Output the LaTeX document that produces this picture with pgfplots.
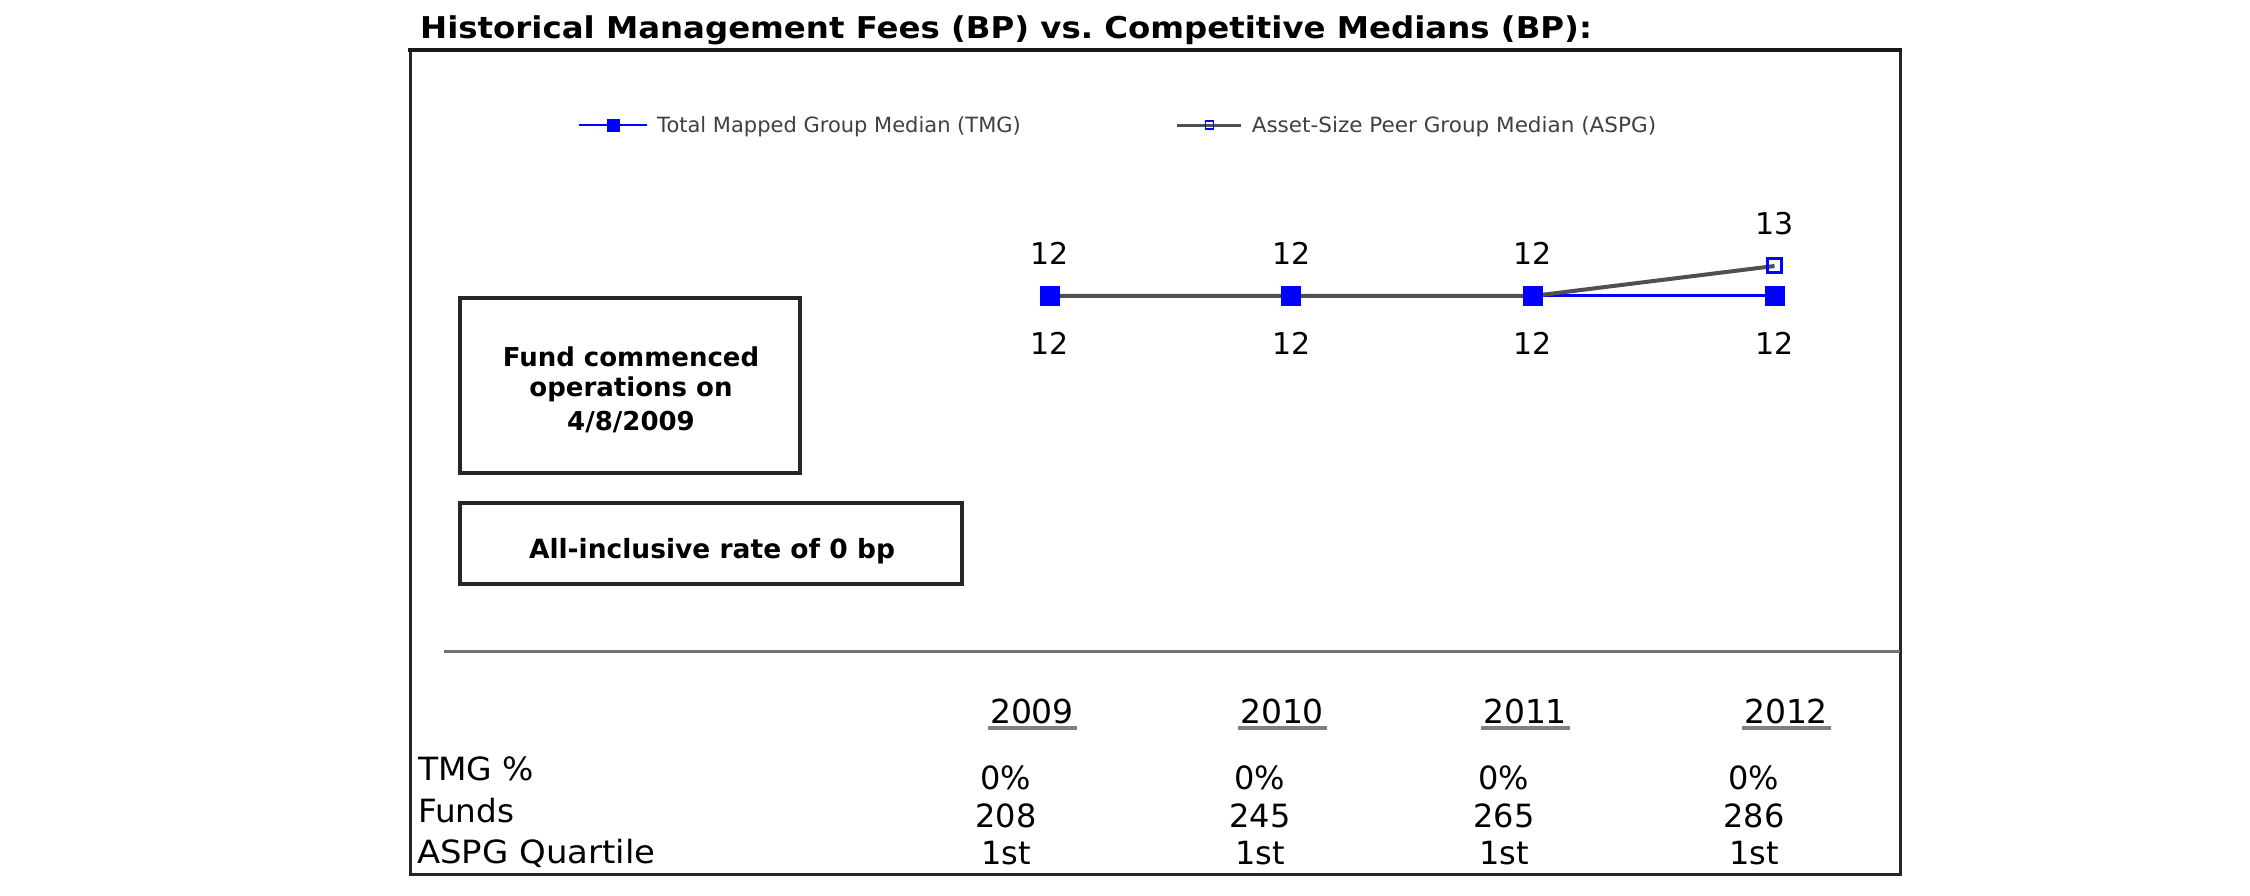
\documentclass[border=0pt]{standalone}
\usepackage{fontspec}
\setmainfont{DejaVu Sans}
\usepackage{graphicx}
\usepackage{pgfplots}
\pgfplotsset{compat=1.18}
\definecolor{aspg}{RGB}{80,80,80}
\newcommand\fs[1]{\fontsize{#1}{#1}\selectfont}
\pgfplotsset{
  tmglegend/.style={legend image code/.code={\draw[mark repeat=2, mark phase=2, ##1, line width=2pt, mark size=6pt, mark options={fill=blue, draw=blue, line width=1pt}] plot coordinates {(0pt,0pt) (34pt,0pt) (68pt,0pt)};}},
  aspglegend/.style={legend image code/.code={\draw[mark repeat=2, mark phase=2, ##1, line width=3pt, mark size=4pt, mark options={draw=blue, line width=1.5pt}] plot coordinates {(0pt,0pt) (32pt,0pt) (64pt,0pt)};}},
}
\begin{document}
\begin{tikzpicture}[x=1pt,y=1pt]
\path[use as bounding box, fill=white] (0,0) rectangle (2250,895);
% title
\node[anchor=base west, inner sep=0pt] at (420,856) {\fs{30}\bfseries\scalebox{1.08}[1]{Historical Management Fees (BP) vs.\ Competitive Medians (BP):}};
% frame
\draw[line width=3pt, black!85] (410,21) rectangle (1900,845);
\draw[line width=4.5pt, black!90] (408,845) -- (1902,845);
% boxes
\draw[line width=3.5pt, black!85] (460,422) rectangle (800,597);
\node[anchor=base, inner sep=0pt] at (631,528) {\fs{26}\bfseries Fund commenced};
\node[anchor=base, inner sep=0pt] at (631,498) {\fs{26}\bfseries operations on};
\node[anchor=base, inner sep=0pt] at (631,464) {\fs{26}\bfseries 4/8/2009};
\draw[line width=3.5pt, black!85] (460,311) rectangle (962,392);
\node[anchor=base, inner sep=0pt] at (712,337) {\fs{26.5}\bfseries All-inclusive rate of 0 bp};
% separator
\draw[line width=3pt, black!55] (444,244) -- (1900,244);
% table headers
\foreach \x/\t in {1032/2009,1282/2010,1525/2011,1786/2012}{
  \node[anchor=base, inner sep=0pt] at (\x,172) {\fs{33}\t};
  \draw[line width=4pt, black!50] (\x-44.5,167) -- (\x+44.5,167);
}
% row labels
\node[anchor=base west, inner sep=0pt] at (418,115) {\fs{32}\scalebox{1.03}[1]{TMG \%}};
\node[anchor=base west, inner sep=0pt] at (418,73) {\fs{32}\scalebox{1.02}[1]{Funds}};
\node[anchor=base west, inner sep=0pt] at (417,32) {\fs{32}\scalebox{1.06}[1]{ASPG Quartile}};
% row values
\foreach \x/\b in {1006/208,1260/245,1504/265,1754/286}{
  \node[anchor=base, inner sep=0pt] at (\x,106) {\fs{32}0\%};
  \node[anchor=base, inner sep=0pt] at (\x,68) {\fs{32}\b};
  \node[anchor=base, inner sep=0pt] at (\x,31) {\fs{32}1st};
}
\begin{axis}[
  at={(0,0)}, anchor=south west, scale only axis,
  width=2250pt, height=895pt,
  xmin=2004.6573, xmax=2013.9676, ymin=-7.9667, ymax=21.8667,
  hide axis, clip=false,
  legend style={at={(0.2569,0.8603)}, anchor=west, draw=none, fill=none,
    inner sep=0pt, font=\fs{21}, text=black!75, legend columns=2,
    nodes={inner sep=0pt},
    /tikz/every odd column/.append style={column sep=9pt},
    /tikz/every even column/.append style={column sep=155pt}},
  every node near coord/.append style={font=\fs{30}, text=black, inner sep=0pt, anchor=south},
]
\addplot[color=blue, line width=3pt, mark=square*, mark size=9.5pt,
  mark options={solid, fill=blue, draw=blue, line width=1pt}, tmglegend]
  coordinates {(2009,12) (2010,12) (2011,12) (2012,12)};
\addlegendentry{Total Mapped Group Median (TMG)}
\addplot[color=aspg, line width=4pt, mark=square, mark size=7pt,
  mark options={solid, draw=blue, line width=3pt},
  nodes near coords, point meta=explicit symbolic,
  every node near coord/.append style={yshift=30pt}, aspglegend]
  coordinates {(2009,12) [12] (2010,12) [12] (2011,12) [12] (2012,13) [13]};
\addlegendentry{\scalebox{1.025}[1]{Asset-Size Peer Group Median (ASPG)}}
\addplot[forget plot, only marks, mark=square*, mark size=9.5pt,
  mark options={solid, fill=blue, draw=blue, line width=1pt},
  nodes near coords, point meta=explicit symbolic,
  every node near coord/.append style={yshift=-59pt}]
  coordinates {(2009,12) [12] (2010,12) [12] (2011,12) [12] (2012,12) [12]};
\end{axis}
\end{tikzpicture}
\end{document}
